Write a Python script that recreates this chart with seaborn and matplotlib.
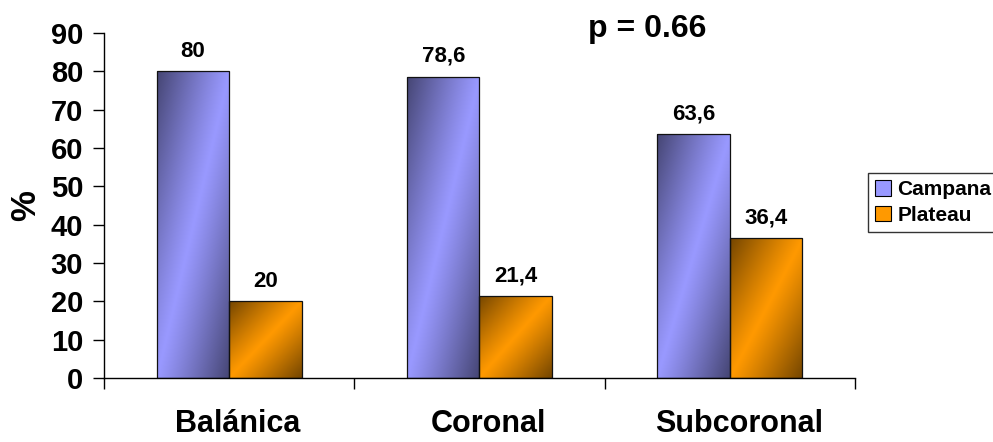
import numpy as np
import pandas as pd
import seaborn as sns
import matplotlib
matplotlib.use("Agg")
import matplotlib.pyplot as plt
from matplotlib.patches import Patch
from matplotlib.transforms import ScaledTranslation

# Data
categories = ["Balánica", "Coronal", "Subcoronal"]
series_names = ["Campana", "Plateau"]
campana = [80, 78.6, 63.6]
plateau = [20, 21.4, 36.4]
y_ticks = [0, 10, 20, 30, 40, 50, 60, 70, 80, 90]
p_text = "p = 0.66"

light_colors = {"Campana": np.array([0x99, 0x99, 0xFF]) / 255,
                "Plateau": np.array([0xFF, 0x99, 0x00]) / 255}

df = pd.DataFrame({
    "categoria": categories * 2,
    "serie": [series_names[0]] * 3 + [series_names[1]] * 3,
    "valor": campana + plateau,
})

sns.set_theme(style="white")
plt.rcParams["font.family"] = ["Liberation Sans", "DejaVu Sans"]
plt.rcParams["font.weight"] = "bold"
plt.rcParams["text.color"] = "black"
plt.rcParams["axes.labelcolor"] = "black"
plt.rcParams["xtick.color"] = "black"
plt.rcParams["ytick.color"] = "black"

fig = plt.figure(figsize=(9.93, 4.42), dpi=100)
ax = fig.add_axes([104 / 993, 64 / 442, (855 - 104) / 993, (378 - 33) / 442])

sns.barplot(data=df, x="categoria", y="valor", hue="serie",
            order=categories, hue_order=series_names,
            palette=[tuple(light_colors[s]) for s in series_names],
            width=0.58, edgecolor="#111111", linewidth=0.9,
            legend=False, ax=ax)

# Diagonal shading inside each bar: dark at top-left and bottom-right corners
N = 200
u = np.linspace(0, 1, N)[None, :]
v = np.linspace(0, 1, N)[:, None]
shade = 1 - 0.55 * np.abs(u - v) ** 1.1

for container, name in zip(ax.containers, series_names):
    base = light_colors[name]
    img = shade[:, :, None] * base[None, None, :]
    for bar in container:
        x0, w, h = bar.get_x(), bar.get_width(), bar.get_height()
        im = ax.imshow(img, extent=[x0, x0 + w, 0, h], origin="lower",
                       aspect="auto", zorder=bar.get_zorder() - 0.1,
                       interpolation="bilinear")
        im.set_clip_path(bar)
        bar.set_facecolor("none")

# Value labels
for container in ax.containers:
    labels = [f"{b.get_height():g}".replace(".", ",") for b in container]
    ax.bar_label(container, labels=labels, padding=7, fontsize=16,
                 fontweight="bold", color="black")

ax.set_xlim(-0.5, 2.5)
ax.set_ylim(0, 90)
ax.set_yticks(y_ticks)
ax.tick_params(axis="y", which="major", direction="out", length=8, width=1,
               color="black", labelcolor="black", labelsize=21, pad=7,
               left=True)
for lab in ax.get_yticklabels():
    lab.set_fontweight("bold")

# Category boundaries as major ticks, names as minor ticks
ax.set_xticks([-0.5, 0.5, 1.5, 2.5])
ax.set_xticklabels([])
ax.set_xticks([0, 1, 2], minor=True)
ax.set_xticklabels(categories, minor=True, fontsize=22, fontweight="bold",
                   color="black")
ax.tick_params(axis="x", which="major", direction="out", length=8, width=1,
               color="black", bottom=True)
ax.tick_params(axis="x", which="minor", length=0, pad=22)
for lab in ax.get_xticklabels(minor=True):
    lab.set_transform(lab.get_transform() +
                      ScaledTranslation(9 / 100, 0, fig.dpi_scale_trans))

ax.set_xlabel("")
ax.set_ylabel("%", fontsize=25, fontweight="bold", labelpad=6, color="black")

for side in ["top", "right"]:
    ax.spines[side].set_visible(False)
for side in ["left", "bottom"]:
    ax.spines[side].set_color("black")
    ax.spines[side].set_linewidth(1)

# Legend
handles = [Patch(facecolor=light_colors[s], edgecolor="black", linewidth=0.8,
                 label=s) for s in series_names]
leg = fig.legend(handles=handles, loc="upper left",
                 bbox_to_anchor=(868 / 993, 1 - 173 / 442),
                 frameon=True, fancybox=False, fontsize=15,
                 handlelength=0.75, handleheight=0.75, handletextpad=0.3,
                 borderpad=0.35, labelspacing=0.3, borderaxespad=0)
leg.get_frame().set_edgecolor("black")
leg.get_frame().set_linewidth(1)
for t in leg.get_texts():
    t.set_fontweight("bold")
    t.set_color("black")

fig.text(647 / 993, 1 - 37 / 442, p_text, ha="center", va="baseline",
         fontsize=23, fontweight="bold", color="black")

fig.savefig("out.png", dpi=100)
